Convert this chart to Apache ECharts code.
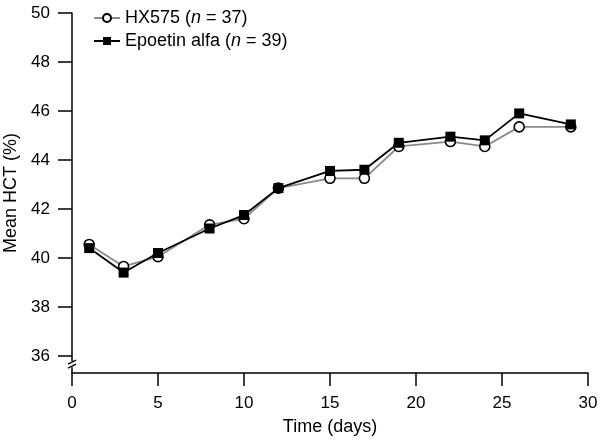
<!DOCTYPE html>
<html>
<head>
<meta charset="utf-8">
<script src="https://cdn.jsdelivr.net/npm/echarts@6/dist/echarts.min.js"></script>
<style>html,body{margin:0;padding:0;background:#fff}#c{width:600px;height:443px}</style>
</head>
<body>
<div id="c"></div>
<script>
const days = [1, 3, 5, 8, 10, 12, 15, 17, 19, 22, 24, 26, 29];
const hx575 = [40.55, 39.65, 40.05, 41.35, 41.6, 42.85, 43.25, 43.25, 44.55, 44.75, 44.55, 45.35, 45.35];
const epoetin = [40.4, 39.4, 40.2, 41.2, 41.75, 42.85, 43.55, 43.6, 44.7, 44.95, 44.8, 45.9, 45.45];
const yTicks = [36, 38, 40, 42, 44, 46, 48, 50];
const xTicks = [0, 5, 10, 15, 20, 25, 30];
const seriesNames = ['HX575 (n = 37)', 'Epoetin alfa (n = 39)'];

const FONT = 'Liberation Sans, Arial, Helvetica, sans-serif';
const chart = echarts.init(document.getElementById('c'));
const pair = (xs, ys) => xs.map((x, i) => [x, ys[i]]);

chart.setOption({
  animation: false,
  backgroundColor: '#fff',
  textStyle: { fontFamily: FONT, color: '#000' },
  grid: { left: 72, right: 12, top: 13, bottom: 70, containLabel: false, outerBoundsMode: 'none' },
  legend: {
    left: 88, top: 4, orient: 'vertical', itemGap: 5,
    itemWidth: 26, itemHeight: 10,
    textStyle: { fontFamily: FONT, fontSize: 18, color: '#000', rich: { i: { fontStyle: 'italic', fontSize: 18, fontFamily: FONT } } },
    formatter: function (n) { return n.replace('(n', '({i|n}'); },
    data: seriesNames
  },
  xAxis: {
    type: 'value', min: 0, max: 30, interval: 5,
    name: 'Time (days)', nameLocation: 'middle', nameGap: 45,
    nameTextStyle: { fontFamily: FONT, fontSize: 18, color: '#000' },
    axisLine: { lineStyle: { color: '#000', width: 1.5 } },
    axisTick: { length: 13, lineStyle: { color: '#000', width: 1.5 }, customValues: xTicks },
    axisLabel: { margin: 22, fontSize: 17, color: '#000', fontFamily: FONT, customValues: xTicks },
    splitLine: { show: false }
  },
  yAxis: {
    type: 'value', min: 35.3, max: 50,
    name: 'Mean HCT (%)', nameLocation: 'middle', nameGap: 50,
    nameTextStyle: { fontFamily: FONT, fontSize: 18, color: '#000' },
    axisLine: { show: true, lineStyle: { color: '#000', width: 1.5 } },
    axisTick: { show: true, length: 14, lineStyle: { color: '#000', width: 1.5 }, customValues: yTicks },
    axisLabel: { margin: 22, fontSize: 17, color: '#000', fontFamily: FONT, customValues: yTicks },
    splitLine: { show: false }
  },
  series: [
    {
      name: seriesNames[0], type: 'line', data: pair(days, hx575),
      symbol: 'circle', symbolSize: 10, z: 2,
      lineStyle: { color: '#8a8a8a', width: 1.8 },
      itemStyle: { color: '#fff', borderColor: '#000', borderWidth: 1.6 }
    },
    {
      name: seriesNames[1], type: 'line', data: pair(days, epoetin),
      symbol: 'rect', symbolSize: 10, z: 3,
      lineStyle: { color: '#000', width: 1.8 },
      itemStyle: { color: '#000', borderColor: '#000', borderWidth: 0 }
    }
  ]
});

// axis break marker on the y axis
const p = chart.convertToPixel({ gridIndex: 0 }, [0, 35.62]);
const bx = p[0], by = p[1];
chart.setOption({
  graphic: [
    { type: 'rect', shape: { x: bx - 6, y: by - 4, width: 12, height: 6 }, style: { fill: '#fff' }, z: 100 },
    { type: 'line', shape: { x1: bx - 4, y1: by - 1, x2: bx + 4, y2: by - 5 }, style: { stroke: '#000', lineWidth: 1.5 }, z: 101 },
    { type: 'line', shape: { x1: bx - 4, y1: by + 3, x2: bx + 4, y2: by - 1 }, style: { stroke: '#000', lineWidth: 1.5 }, z: 101 }
  ]
});
</script>
</body>
</html>
